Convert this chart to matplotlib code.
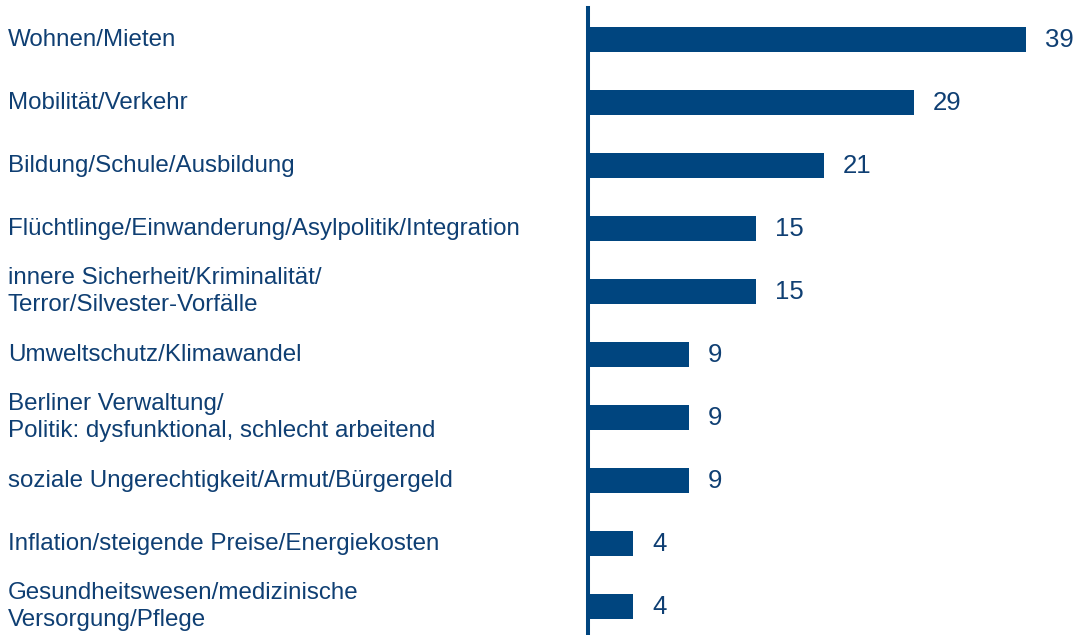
import matplotlib.pyplot as plt
from matplotlib.transforms import blended_transform_factory

categories = [
    'Wohnen/Mieten',
    'Mobilität/Verkehr',
    'Bildung/Schule/Ausbildung',
    'Flüchtlinge/Einwanderung/Asylpolitik/Integration',
    'innere Sicherheit/Kriminalität/\nTerror/Silvester-Vorfälle',
    'Umweltschutz/Klimawandel',
    'Berliner Verwaltung/\nPolitik: dysfunktional, schlecht arbeitend',
    'soziale Ungerechtigkeit/Armut/Bürgergeld',
    'Inflation/steigende Preise/Energiekosten',
    'Gesundheitswesen/medizinische\nVersorgung/Pflege',
]
values = [39, 29, 21, 15, 15, 9, 9, 9, 4, 4]

bar_color = '#00457f'
text_color = '#0f3f73'

plt.rcParams['font.family'] = ['Liberation Sans', 'DejaVu Sans']

W, H = 1077, 635
fig = plt.figure(figsize=(W / 100, H / 100), dpi=100)
left = 588 / W
px_per_unit = 11.23
ax = fig.add_axes([left, 0, 1 - left, 1 - 8 / H])

ypos = list(range(len(values)))
ax.barh(ypos, values, height=0.4, color=bar_color, zorder=2)

ax.set_xlim(0, (W - 588) / px_per_unit)
ax.set_ylim(9.45, -0.5)

for spine in ['top', 'right', 'bottom']:
    ax.spines[spine].set_visible(False)
ax.spines['left'].set_color(bar_color)
ax.spines['left'].set_linewidth(2.9)
ax.set_xticks([])
ax.set_yticks([])

for y, v in zip(ypos, values):
    ax.text(v + 19 / px_per_unit, y, str(v), ha='left', va='center',
            fontsize=18.5, color=text_color)

trans = blended_transform_factory(fig.transFigure, ax.transData)
for y, label in zip(ypos, categories):
    ax.text(8 / W, y, label, transform=trans, ha='left', va='center',
            fontsize=17.4, color=text_color, linespacing=1.3)

fig.savefig('out.png', dpi=100)
